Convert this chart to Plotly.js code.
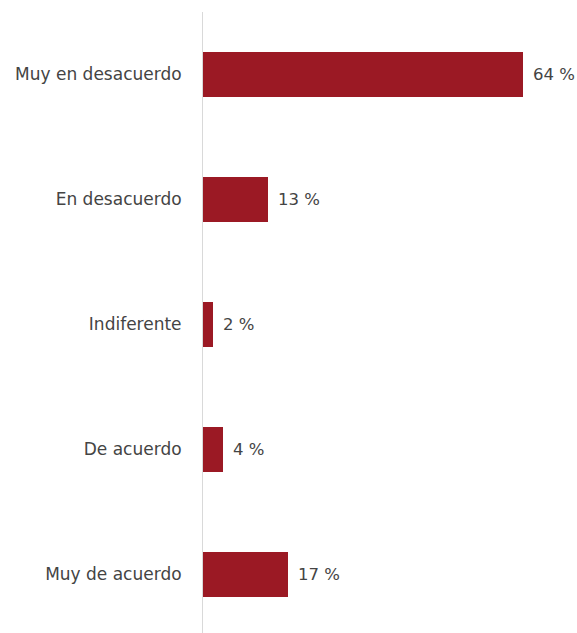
<!DOCTYPE html>
<html>
<head>
<meta charset="utf-8">
<script src="https://cdn.plot.ly/plotly-3.0.1.min.js"></script>
<style>html,body{margin:0;padding:0;background:#fff;}#chart{width:577px;height:633px;}</style>
</head>
<body>
<div id="chart"></div>
<script>
const categories = ["Muy en desacuerdo", "En desacuerdo", "Indiferente", "De acuerdo", "Muy de acuerdo"];
const values = [64, 13, 2, 4, 17];
const labels = values.map(v => v + " %");

const FONT = "DejaVu Sans, sans-serif";
const TEXT_COLOR = "#444444";

const annotations = categories.map((c, i) => ({
  x: values[i], y: c, xref: "x", yref: "y",
  text: labels[i], showarrow: false,
  xanchor: "left", yanchor: "middle", xshift: 8,
  font: {family: FONT, size: 16.5, color: TEXT_COLOR}
}));

Plotly.newPlot("chart", [{
  type: "bar",
  orientation: "h",
  y: categories,
  x: values,
  marker: {color: "#9b1924"},
  hoverinfo: "none"
}], {
  width: 577, height: 633,
  margin: {l: 203, r: 0, t: 12, b: 0},
  paper_bgcolor: "#fff", plot_bgcolor: "#fff",
  bargap: 0.64,
  showlegend: false,
  annotations: annotations,
  xaxis: {range: [0, 74.8], visible: false, fixedrange: true},
  yaxis: {
    range: [4.468, -0.5],
    showline: true, linecolor: "#d9d9d9", linewidth: 1,
    showgrid: false, zeroline: false,
    ticks: "", ticklabelstandoff: 17,
    tickfont: {family: FONT, size: 17, color: TEXT_COLOR}
  },
  font: {family: FONT}
}, {displayModeBar: false, staticPlot: true});
</script>
</body>
</html>
